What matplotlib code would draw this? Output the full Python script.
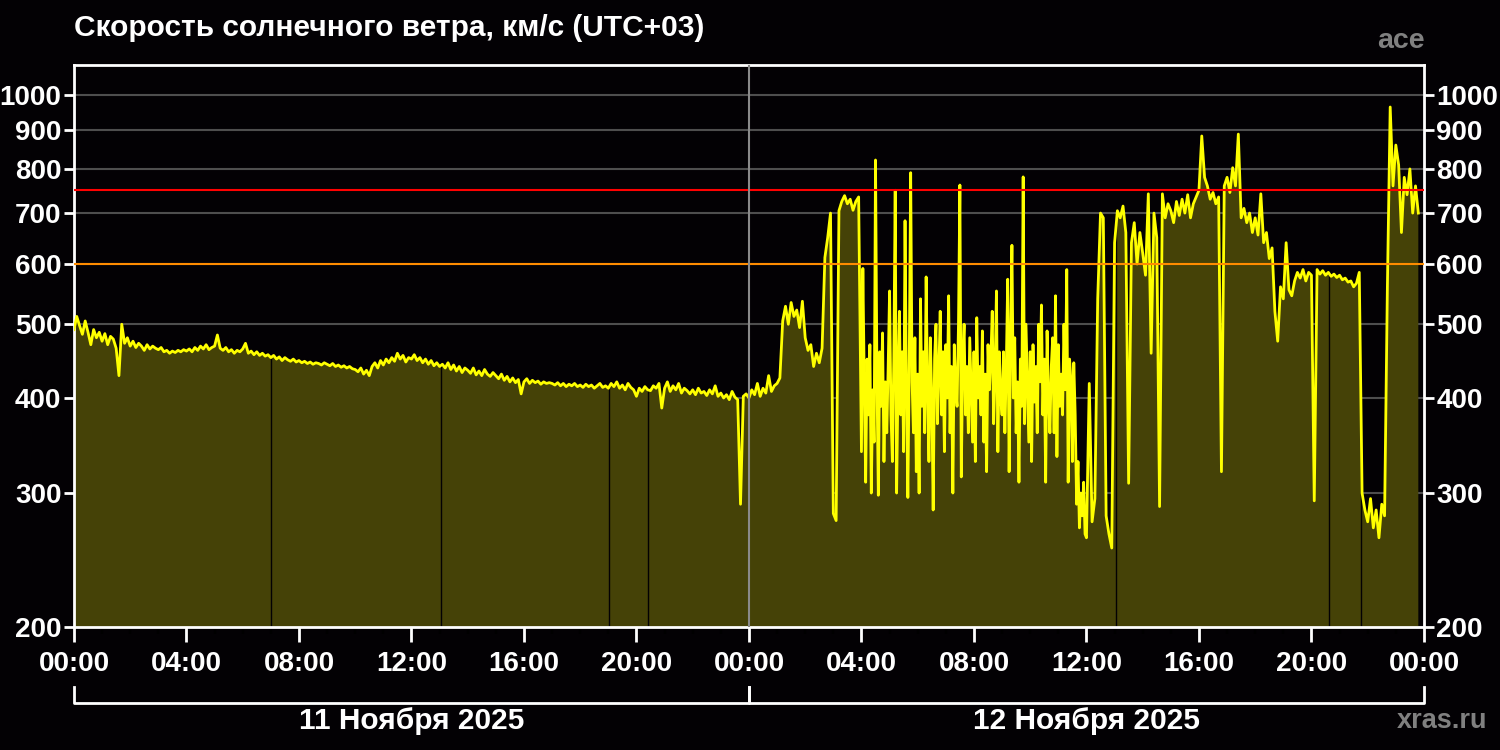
import numpy as np
import pandas as pd
import matplotlib
matplotlib.use("Agg")
import matplotlib.pyplot as plt
import matplotlib.dates as mdates
import matplotlib.transforms as mtransforms

plt.rcParams['font.family'] = ['Liberation Sans', 'DejaVu Sans']
plt.rcParams['font.weight'] = 'bold'

# solar wind speed, km/s (UTC+03)
# 11 Nov 00:00 - 23:54, every 6 minutes
day1_speed = [
    492, 512, 498, 485, 505, 488, 470, 492, 480, 488,
    475, 486, 470, 482, 478, 465, 428, 500, 472, 480,
    468, 475, 466, 472, 468, 462, 470, 464, 468, 465,
    463, 466, 460, 462, 458, 461, 459, 462, 460, 463,
    461, 464, 460, 466, 462, 468, 464, 470, 463, 466,
    468, 484, 465, 462, 466, 460, 463, 458, 462, 460,
    464, 472, 458, 461, 456, 460, 455, 458, 454, 456,
    452, 455, 450, 453, 448, 452, 449, 447, 450, 446,
    448, 445, 447, 444, 446, 443, 445, 444, 442, 445,
    443, 441, 444, 440, 442, 439, 441, 438, 440, 437,
    436, 433, 438, 430, 435, 428, 440, 445, 438, 448,
    442, 450, 445, 452, 447, 458, 450, 455, 446, 452,
    450, 456, 448, 452, 445, 450, 443, 448, 441, 445,
    440, 443, 438, 445, 436, 442, 434, 440, 432, 438,
    435, 431, 438, 429, 434, 428, 436, 430, 427, 432,
    428, 424, 430, 422, 427, 420, 425, 419, 423, 405,
    420, 424, 418, 422, 419, 421, 417, 420, 418, 419,
    418, 416, 419, 415, 418, 414, 417, 415, 418, 414,
    416, 413, 417, 414, 416, 412, 415, 418, 413, 415,
    412, 418, 414, 420, 412, 416, 410, 418, 413, 410,
    402, 412, 408, 414, 410, 409, 415, 412, 418, 388,
    412, 420, 408, 415, 410, 418, 406, 412, 409, 405,
    410, 404, 412, 406, 408, 403, 410, 405, 415, 402,
    406, 400, 404, 398, 408, 401, 398, 290, 402, 405,
]
# 12 Nov 00:00 - 03:54, every 6 minutes
day2_early = [
    400, 410, 404, 418, 402, 412, 406, 428, 408, 415,
    418, 425, 505, 528, 500, 534, 512, 522, 495, 536,
    480, 462, 470, 440, 458, 445, 465, 612, 650, 700,
    282, 276, 705, 725, 738, 720, 730, 706, 725, 735,
]
# 12 Nov 04:00 - 11:57, every 3 minutes (turbulent stretch)
day2_storm = [
    340, 592, 420, 310, 450, 380, 470, 300, 410, 350, 822, 430, 298, 460, 390, 487, 330, 420, 360, 440,
    553, 380, 330, 450, 750, 300, 420, 520, 380, 460, 340, 684, 410, 296, 450, 791, 420, 360, 480, 320,
    430, 300, 540, 390, 460, 360, 577, 410, 330, 480, 400, 285, 450, 500, 370, 430, 520, 380, 460, 340,
    470, 400, 545, 360, 440, 300, 470, 410, 390, 500, 762, 315, 450, 500, 380, 440, 360, 480, 410, 350,
    460, 330, 510, 400, 440, 380, 490, 350, 430, 320, 470, 410, 450, 520, 370, 430, 553, 340, 460, 400,
    380, 460, 360, 440, 573, 320, 470, 635, 400, 480, 360, 420, 310, 450, 390, 781, 370, 500, 420, 350,
    460, 330, 470, 395, 440, 360, 500, 420, 530, 380, 450, 310, 490, 400, 360, 440, 480, 360, 545, 335,
    470, 390, 430, 380, 500, 410, 590, 310, 450, 420, 330, 445, 380, 290, 330, 270, 300, 280, 310, 265,
]
# 12 Nov 12:00 - 23:54, every 6 minutes
day2_late = [
    262, 418, 275, 295, 540, 700, 690, 280, 265, 254,
    640, 705, 690, 715, 660, 309, 640, 680, 600, 660,
    620, 580, 742, 458, 700, 650, 288, 742, 690, 720,
    705, 680, 725, 695, 730, 700, 740, 690, 720, 735,
    750, 884, 780, 760, 730, 745, 720, 735, 320, 760,
    780, 745, 803, 760, 889, 690, 710, 680, 700, 660,
    690, 655, 742, 640, 660, 610, 630, 520, 475, 560,
    540, 640, 555, 545, 570, 585, 575, 590, 570, 585,
    580, 293, 590, 582, 588, 580, 585, 578, 582, 576,
    580, 572, 575, 568, 570, 560, 566, 585, 300, 285,
    275, 295, 270, 285, 262, 290, 280, 560, 965, 760,
    860, 810, 660, 780, 740, 800, 700, 760, 700, np.nan,
]
# short data gaps (thin dark lines in the fill)
gap_times = ['2025-11-11 07:00', '2025-11-11 13:03', '2025-11-11 19:01',
             '2025-11-11 20:25', '2025-11-12 13:03', '2025-11-12 20:37',
             '2025-11-12 21:46']
levels = [600, 750]
level_colors = ['#ff8c00', '#ff0000']
y_ticks = [200, 300, 400, 500, 600, 700, 800, 900, 1000]
day_labels = ['11 Ноября 2025', '12 Ноября 2025']
day_starts = ['2025-11-11', '2025-11-12', '2025-11-13']

times = pd.DatetimeIndex([]).append([
    pd.date_range('2025-11-11 00:00', periods=len(day1_speed), freq='6min'),
    pd.date_range('2025-11-12 00:00', periods=len(day2_early), freq='6min'),
    pd.date_range('2025-11-12 04:00', periods=len(day2_storm), freq='3min'),
    pd.date_range('2025-11-12 12:00', periods=len(day2_late), freq='6min'),
])
speed = np.array(day1_speed + day2_early + day2_storm + day2_late, dtype=float)
gaps = pd.to_datetime(gap_times)
days = pd.to_datetime(day_starts)

fig = plt.figure(figsize=(15, 7.5), dpi=100, facecolor='#030104')
ax = fig.add_axes([0.0493, 0.164, 0.9, 0.749], facecolor='#030104')

ax.set_yscale('log')
ax.set_ylim(200, 1095)
ax.set_xlim(days[0], days[-1])

ax.fill_between(times, 1, speed, color='#454207', lw=0, zorder=2)
gap_top = np.interp(mdates.date2num(gaps), mdates.date2num(times), np.nan_to_num(speed))
ax.vlines(gaps, 200, gap_top, color='#030104', lw=1, zorder=2.5)
ax.plot(times, speed, color='#ffff00', lw=2, zorder=3)
for lev, col in zip(levels, level_colors):
    ax.axhline(lev, color=col, lw=1.5, zorder=4)
ax.axvline(days[1], color='#8a8a8a', lw=1.5, zorder=4)

ax.set_yticks(y_ticks)
ax.set_yticklabels([str(v) for v in y_ticks])
ax.yaxis.set_minor_locator(matplotlib.ticker.NullLocator())
ax.yaxis.grid(True, color='#4e4e4e', lw=1.5, zorder=1)
ax.set_axisbelow(True)

ax.xaxis.set_major_locator(mdates.HourLocator(byhour=range(0, 24, 4)))
ax.xaxis.set_major_formatter(mdates.DateFormatter('%H:%M'))
ax.xaxis.set_minor_locator(mdates.HourLocator())

for s in ax.spines.values():
    s.set_color('white')
    s.set_linewidth(2)
ax.tick_params(axis='both', colors='white', labelsize=20, width=2)
ax.tick_params(axis='x', which='major', length=11, pad=6)
ax.tick_params(axis='x', which='minor', length=5, width=1.5)
ax.tick_params(axis='y', which='major', length=7, pad=2, right=True, labelright=True)

# day brackets under the time axis
trans = mtransforms.blended_transform_factory(ax.transData, ax.transAxes)
for i, label in enumerate(day_labels):
    x0, x1 = mdates.date2num(days[i]), mdates.date2num(days[i + 1])
    ax.plot([x0, x0, x1, x1], [-0.107, -0.135, -0.135, -0.107], color='white',
            lw=2, transform=trans, clip_on=False)
    ax.text((x0 + x1) / 2, -0.168, label, color='white', fontsize=21.5,
            ha='center', va='center', transform=trans)

fig.text(0.0493, 0.962, 'Скорость солнечного ветра, км/с (UTC+03)', color='white',
         fontsize=21.5, ha='left', va='center')
fig.text(0.95, 0.946, 'ace', color='#808080', fontsize=20.5, ha='right', va='center')
fig.text(0.9913, 0.038, 'xras.ru', color='#808080', fontsize=19.5, ha='right', va='center')

fig.savefig('out.png', dpi=100, facecolor=fig.get_facecolor())
